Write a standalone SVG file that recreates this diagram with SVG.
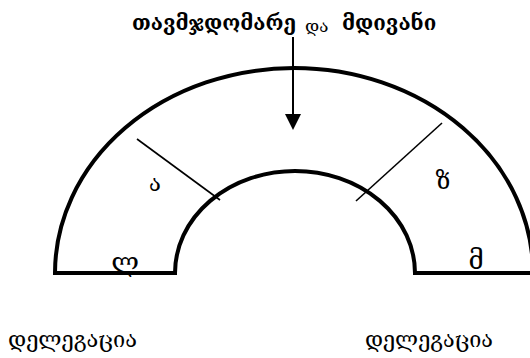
<svg xmlns="http://www.w3.org/2000/svg" width="530" height="358" viewBox="0 0 530 358">
<defs>
<style>
.t{font-family:"DejaVu Serif","DejaVu Sans",serif;fill:#000}
.shape{fill:none;stroke:#000;stroke-width:4}
.tick{stroke:#000;stroke-width:1.6}
</style>
</defs>
<rect width="530" height="358" fill="#fff"/>
<g id="arch">
<path class="shape" d="M55,273 A239,205 0 0 1 533,273 L415,273 A120,102 0 0 0 175,273 Z"/>
</g>
<g id="connectors">
<line class="tick" x1="137" y1="139" x2="220" y2="200"/>
<line class="tick" x1="442" y1="123" x2="356" y2="201"/>
<line x1="293" y1="37" x2="293" y2="115" stroke="#000" stroke-width="2"/>
<path d="M285,114 L301,114 L293,130 Z" fill="#000"/>
</g>
<g id="title">
<text class="t" x="132" y="30" font-size="20.5" font-weight="bold">თავმჯდომარე</text>
<text class="t" x="305" y="32" font-size="17" fill="#555">და</text>
<text class="t" x="342" y="30" font-size="20.5" font-weight="bold">მდივანი</text>
</g>
<g id="labels">
<text class="t" x="155" y="191" font-size="22" text-anchor="middle">ა</text>
<text class="t" x="443" y="189" font-size="24" text-anchor="middle">ზ</text>
<text class="t" x="125" y="271" font-size="26" text-anchor="middle">ლ</text>
<text class="t" x="476" y="269" font-size="26" text-anchor="middle">მ</text>
</g>
<g id="delegation-left"><text class="t" x="8" y="347" font-size="22" textLength="129" lengthAdjust="spacingAndGlyphs">დელეგაცია</text></g>
<g id="delegation-right"><text class="t" x="365" y="347" font-size="22" textLength="128" lengthAdjust="spacingAndGlyphs">დელეგაცია</text></g>
</svg>
